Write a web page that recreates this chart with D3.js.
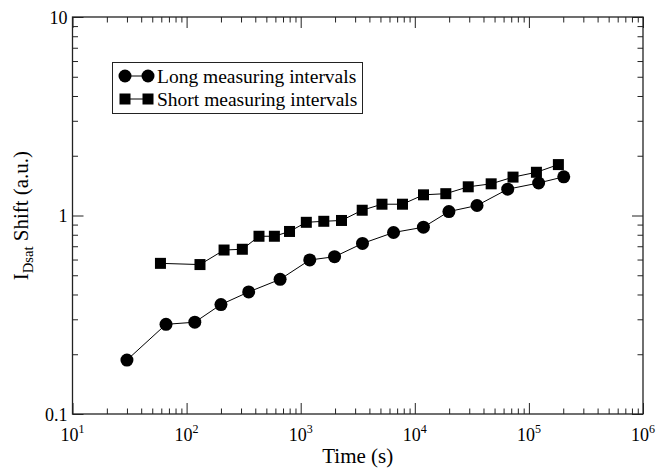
<!DOCTYPE html>
<html>
<head>
<meta charset="utf-8">
<script src="https://cdn.jsdelivr.net/npm/d3@7"></script>
<style>
  body { margin: 0; background: white; }
  text { font-family: "Liberation Serif", "DejaVu Serif", serif; }
</style>
</head>
<body>
<div id="container"></div>
<script>
let w = 671;
let h = 468;

// data
let longTime = [30, 66, 118, 200, 350, 660, 1200, 1980, 3480, 6510, 11900, 19900, 35100, 65200, 121700, 202000];
let longShift = [0.187, 0.283, 0.290, 0.356, 0.412, 0.477, 0.597, 0.620, 0.723, 0.821, 0.873, 1.047, 1.123, 1.357, 1.458, 1.566];
let shortTime = [59, 131, 213, 308, 431, 588, 798, 1120, 1594, 2278, 3460, 5157, 7800, 11920, 18700, 29400, 46700, 72600, 116400, 181300];
let shortShift = [0.574, 0.566, 0.670, 0.676, 0.786, 0.786, 0.831, 0.924, 0.935, 0.944, 1.063, 1.140, 1.140, 1.271, 1.288, 1.395, 1.444, 1.561, 1.651, 1.805];
let xMajor = [1e1, 1e2, 1e3, 1e4, 1e5, 1e6];
let xExp = ["1", "2", "3", "4", "5", "6"];
let yMajor = [0.1, 1, 10];
let yLabels = ["0.1", "1", "10"];
let seriesNames = ["Long measuring intervals", "Short measuring intervals"];

let pLeft = 72.5, pRight = 643, pTop = 17, pBottom = 414;

let viz = d3.select("#container").append("svg")
    .attr("width", w)
    .attr("height", h)
    .style("background-color", "white");

let x = d3.scaleLog().domain([10, 1e6]).range([pLeft, pRight]);
let y = d3.scaleLog().domain([0.1, 10]).range([pBottom, pTop]);

let xMinor = x.ticks().filter(t => !xMajor.includes(t));
let yMinor = y.ticks().filter(t => !yMajor.some(m => Math.abs(m - t) < 1e-9));

// ticks, all pointing inward, mirrored on the opposite side
function tickAxis(axis, vals, size, tf) {
    let g = viz.append("g").attr("transform", tf)
        .call(axis.tickValues(vals).tickSize(size).tickFormat(""));
    g.select(".domain").remove();
    g.selectAll("line").attr("stroke", "#222").attr("stroke-width", 1);
}
tickAxis(d3.axisBottom(x), xMajor, -11, `translate(0,${pBottom})`);
tickAxis(d3.axisBottom(x), xMinor, -5.5, `translate(0,${pBottom})`);
tickAxis(d3.axisTop(x), xMajor, -11, `translate(0,${pTop})`);
tickAxis(d3.axisTop(x), xMinor, -5.5, `translate(0,${pTop})`);
tickAxis(d3.axisLeft(y), yMajor, -11, `translate(${pLeft},0)`);
tickAxis(d3.axisLeft(y), yMinor, -5.5, `translate(${pLeft},0)`);
tickAxis(d3.axisRight(y), yMajor, -11, `translate(${pRight},0)`);
tickAxis(d3.axisRight(y), yMinor, -5.5, `translate(${pRight},0)`);

viz.append("rect")
    .attr("x", pLeft).attr("y", pTop)
    .attr("width", pRight - pLeft).attr("height", pBottom - pTop)
    .attr("fill", "none").attr("stroke", "#222").attr("stroke-width", 1.3);

// x tick labels 10^n
xMajor.forEach((t, k) => {
    let txt = viz.append("text")
        .attr("x", x(t)).attr("y", pBottom + 27)
        .attr("text-anchor", "middle")
        .attr("font-size", 18);
    txt.append("tspan").text("10");
    txt.append("tspan").attr("dy", -8).attr("font-size", 12).text(xExp[k]);
});

// y tick labels
yMajor.forEach((t, k) => {
    viz.append("text")
        .attr("x", pLeft - 5).attr("y", y(t) + 6.5)
        .attr("text-anchor", "end")
        .attr("font-size", 18)
        .text(yLabels[k]);
});

viz.append("text")
    .attr("x", (pLeft + pRight) / 2).attr("y", h - 5)
    .attr("text-anchor", "middle")
    .attr("font-size", 21)
    .text("Time (s)");

let yt = viz.append("text")
    .attr("transform", `translate(28,${(pTop + pBottom) / 2}) rotate(-90)`)
    .attr("text-anchor", "middle")
    .attr("font-size", 21);
yt.append("tspan").text("I");
yt.append("tspan").attr("dy", 5).attr("font-size", 14.5).text("Dsat");
yt.append("tspan").attr("dy", -5).text(" Shift (a.u.)");

// series
let line = d3.line().x(d => x(d[0])).y(d => y(d[1]));
let longData = longTime.map((t, k) => [t, longShift[k]]);
let shortData = shortTime.map((t, k) => [t, shortShift[k]]);

viz.append("path").attr("d", line(longData))
    .attr("fill", "none").attr("stroke", "black").attr("stroke-width", 1);
viz.append("path").attr("d", line(shortData))
    .attr("fill", "none").attr("stroke", "black").attr("stroke-width", 1);

viz.selectAll(".long").data(longData).enter()
    .append("circle")
        .attr("class", "long")
        .attr("cx", d => x(d[0]))
        .attr("cy", d => y(d[1]))
        .attr("r", 6.5)
        .attr("fill", "black");

viz.selectAll(".short").data(shortData).enter()
    .append("rect")
        .attr("class", "short")
        .attr("x", d => x(d[0]) - 5.5)
        .attr("y", d => y(d[1]) - 5.5)
        .attr("width", 11)
        .attr("height", 11)
        .attr("fill", "black");

// legend
let lg = viz.append("g");
lg.append("rect")
    .attr("x", 112.5).attr("y", 62.5)
    .attr("width", 250).attr("height", 51)
    .attr("fill", "white").attr("stroke", "#222").attr("stroke-width", 1);
seriesNames.forEach((name, k) => {
    let cy = 76 + k * 23;
    lg.append("line").attr("x1", 125).attr("x2", 148).attr("y1", cy).attr("y2", cy)
        .attr("stroke", "black").attr("stroke-width", 1);
    [125, 148].forEach(cx => {
        if (k == 0) {
            lg.append("circle").attr("cx", cx).attr("cy", cy).attr("r", 6.5).attr("fill", "black");
        } else {
            lg.append("rect").attr("x", cx - 5.5).attr("y", cy - 5.5)
                .attr("width", 11).attr("height", 11).attr("fill", "black");
        }
    });
    lg.append("text")
        .attr("x", 157).attr("y", cy + 6.5)
        .attr("font-size", 19.5)
        .text(name);
});
</script>
</body>
</html>
